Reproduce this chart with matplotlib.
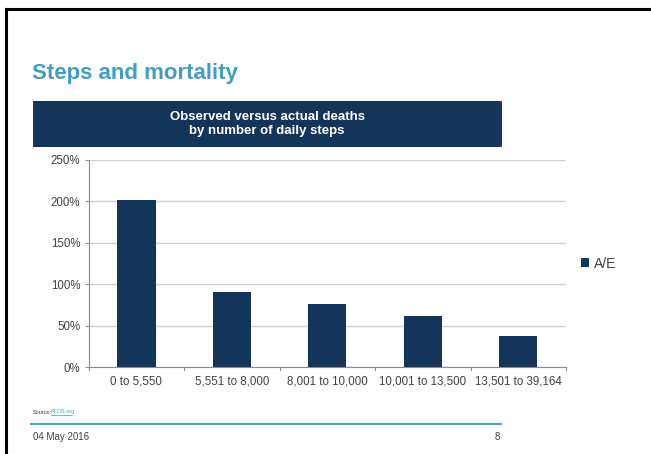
import matplotlib
matplotlib.use("Agg")
import matplotlib.pyplot as plt
from matplotlib.patches import Rectangle
from matplotlib.lines import Line2D

plt.rcParams['font.family'] = ['Liberation Sans', 'DejaVu Sans']

categories = ["0 to 5,550", "5,551 to 8,000", "8,001 to 10,000",
              "10,001 to 13,500", "13,501 to 39,164"]
ae_ratio = [202, 91, 76, 62, 38]
y_ticks = [0, 50, 100, 150, 200, 250]

W, H = 651, 454
navy = "#14355a"
teal = "#439cc1"
grey_text = "#404040"

fig = plt.figure(figsize=(W / 100, H / 100), dpi=100)


def fx(px):
    return px / W


def fy(py):
    return 1 - py / H


# slide frame
fig.add_artist(Line2D([fx(6), fx(6)], [fy(9), 0], color="black", lw=2.2))
fig.add_artist(Line2D([fx(6), 1], [fy(9), fy(9)], color="black", lw=2.2))

fig.text(fx(32), fy(74), "Steps and mortality", color=teal, fontsize=16,
         fontweight="bold", va="center", ha="left")

# header band
fig.add_artist(Rectangle((fx(33), fy(147)), fx(502) - fx(33), fy(101) - fy(147),
                         transform=fig.transFigure, color=navy, lw=0))
fig.text(fx(267), fy(124), "Observed versus actual deaths\nby number of daily steps",
         color="white", fontsize=9.5, fontweight="bold", ha="center", va="center",
         linespacing=1.3)

ax_left, ax_right = 88.7, 566
ax = fig.add_axes([fx(ax_left), fy(367.3), fx(ax_right) - fx(ax_left), fy(159.7) - fy(367.3)])
x = range(len(categories))
ax.bar(x, ae_ratio, width=0.4, color=navy, label="A/E", zorder=3)
ax.set_xlim(-0.5, len(categories) - 0.5)
ax.set_ylim(0, 250)
ax.set_yticks(y_ticks)
ax.set_yticklabels([f"{v}%" for v in y_ticks])
ax.set_xticks(list(x))
ax.set_xticklabels(categories)
ax.yaxis.grid(True, color="#d0d0d0", lw=1, zorder=0)
ax.tick_params(axis="x", length=0, labelsize=8.3, colors=grey_text, pad=6)
ax.tick_params(axis="y", length=3, labelsize=8.3, colors=grey_text, pad=3,
               color="#8c8c8c")
for sp in ["top", "right"]:
    ax.spines[sp].set_visible(False)
for sp in ["left", "bottom"]:
    ax.spines[sp].set_color("#8c8c8c")
# boundary ticks between categories
for b in [i - 0.5 for i in range(len(categories) + 1)]:
    ax.plot([b, b], [0, -0.015], transform=ax.get_xaxis_transform(),
            color="#8c8c8c", lw=0.8, clip_on=False)

anchor_x = (581 - ax_left) / (ax_right - ax_left)
ax.legend(loc="center left", bbox_to_anchor=(anchor_x, 0.5),
          frameon=False, fontsize=10, handlelength=0.6, handleheight=0.6,
          handletextpad=0.3, labelcolor=grey_text, borderaxespad=0,
          borderpad=0)

fig.text(fx(33), fy(412), "Source:", fontsize=4, color=grey_text, va="center")
fig.text(fx(51), fy(412), "PLOS.org", fontsize=4, color=teal, va="center")
fig.add_artist(Line2D([fx(51), fx(72)], [fy(415), fy(415)], color=teal, lw=0.5))

fig.add_artist(Line2D([fx(31), fx(501)], [fy(424), fy(424)], color="#3b9ac0", lw=1.3))
fig.text(fx(33), fy(437), "04 May 2016", fontsize=7, color=grey_text, va="center")
fig.text(fx(500), fy(437), "8", fontsize=7, color=grey_text, va="center", ha="right")

fig.savefig("out.png", dpi=100)
